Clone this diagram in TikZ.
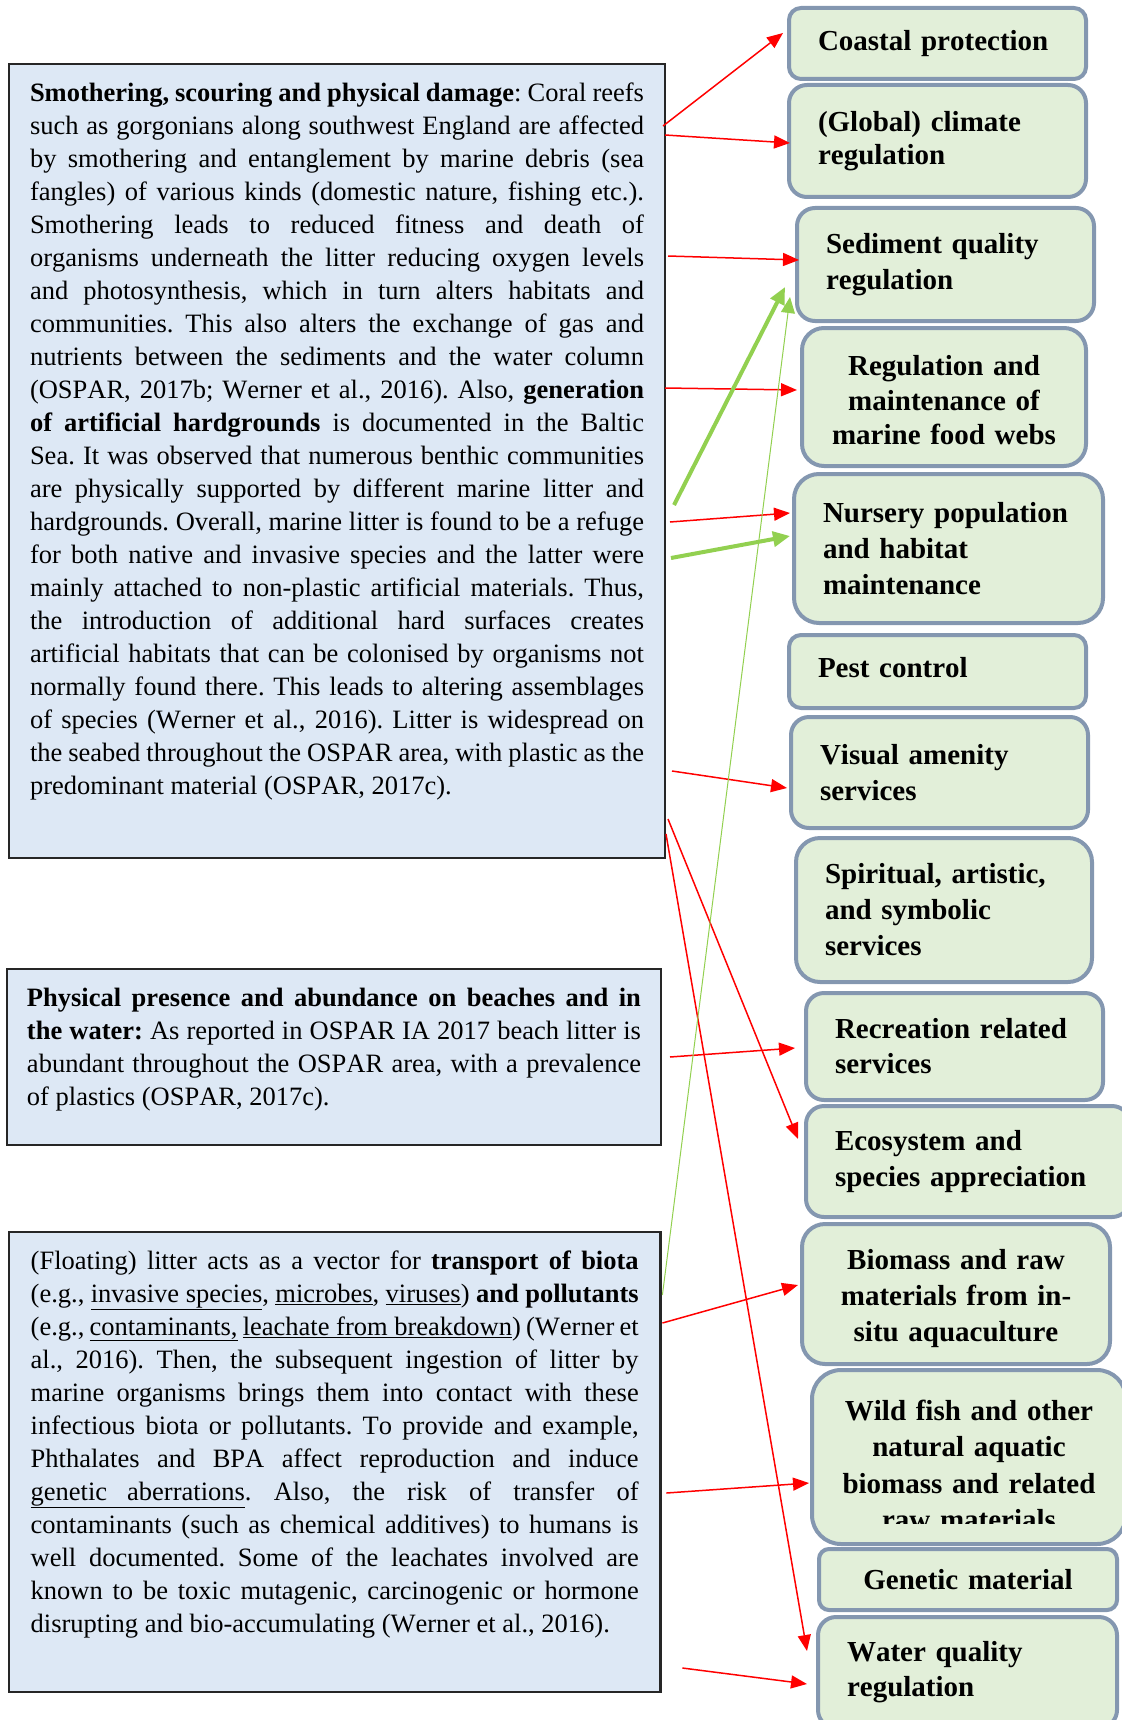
\documentclass[tikz,border=0pt]{standalone}
\usepackage{fontspec}
\setmainfont{Liberation Serif}[Kerning=Off,Ligatures=NoCommon]
\usetikzlibrary{arrows.meta}
\definecolor{pressfill}{HTML}{DDE8F5}
\definecolor{servfill}{HTML}{E2EFD9}
\definecolor{servline}{HTML}{8497B0}
\definecolor{litgreen}{HTML}{92D050}
\hyphenpenalty=10000
\exhyphenpenalty=10000
\tolerance=10000
\frenchspacing

\begin{document}
\begin{tikzpicture}[x=1pt,y=1pt,
	pressure/.style={draw=black!85, line width=2.2pt, fill=pressfill, anchor=north west,
		outer sep=0pt, inner xsep=21pt, inner ysep=14pt, font=\fontsize{26.5}{33}\selectfont},
	service/.style={draw=servline, line width=4pt, fill=servfill, anchor=north west,
		outer sep=0pt, inner xsep=29pt, align=left, font=\fontsize{29}{36}\selectfont\bfseries},
	redlink/.style={draw=red, line width=1.5pt, -{Triangle[length=16pt,width=13pt]}},
	greenlink/.style={draw=litgreen, line width=4pt, -{Triangle[length=17pt,width=15pt]}},
	thingreen/.style={draw=litgreen, line width=1pt, -{Triangle[length=16pt,width=14pt]}}]
	\useasboundingbox (0,0) rectangle (1121,-1720);

	% pressures
	\node[pressure] (damage) at (9,-64) {\parbox[t][766pt][t]{614pt}{\strut\textbf{Smothering, scouring and physical damage}: Coral reefs\linebreak
		such as gorgonians along southwest England are affected\linebreak
		by smothering and entanglement by marine debris (sea\linebreak
		fangles) of various kinds (domestic nature, fishing etc.).\linebreak
		Smothering leads to reduced fitness and death of\linebreak
		organisms underneath the litter reducing oxygen levels\linebreak
		and photosynthesis, which in turn alters habitats and\linebreak
		communities. This also alters the exchange of gas and\linebreak
		nutrients between the sediments and the water column\linebreak
		(OSPAR, 2017b; Werner et al., 2016). Also, \textbf{generation}\linebreak
		\textbf{of artificial hardgrounds} is documented in the Baltic\linebreak
		Sea. It was observed that numerous benthic communities\linebreak
		are physically supported by different marine litter and\linebreak
		hardgrounds. Overall, marine litter is found to be a refuge\linebreak
		for both native and invasive species and the latter were\linebreak
		mainly attached to non-plastic artificial materials. Thus,\linebreak
		the introduction of additional hard surfaces creates\linebreak
		artificial habitats that can be colonised by organisms not\linebreak
		normally found there. This leads to altering assemblages\linebreak
		of species (Werner et al., 2016). Litter is widespread on\linebreak
		the seabed throughout the OSPAR area, with plastic as the\linebreak
		predominant material (OSPAR, 2017c).}};
	\node[pressure, inner xsep=20pt] (presence) at (7,-969) {\parbox[t][148pt][t]{614pt}{\strut\textbf{Physical presence and abundance on beaches and in}\linebreak
		\textbf{the water:} As reported in OSPAR IA 2017 beach litter is\linebreak
		abundant throughout the OSPAR area, with a prevalence\linebreak
		of plastics (OSPAR, 2017c).}};
	\node[pressure, inner xsep=21.7pt] (transport) at (9,-1232) {\parbox[t][432pt][t]{608pt}{\strut(Floating) litter acts as a vector for \textbf{transport of biota}\linebreak
		(e.g., \underline{invasive species}, \underline{microbes}, \underline{viruses}) \textbf{and pollutants}\linebreak
		(e.g., \underline{contaminants,} \underline{leachate from breakdown}) (Werner et\linebreak
		al., 2016). Then, the subsequent ingestion of litter by\linebreak
		marine organisms brings them into contact with these\linebreak
		infectious biota or pollutants. To provide and example,\linebreak
		Phthalates and BPA affect reproduction and induce\linebreak
		\underline{genetic\hspace{20pt}aberrations}. Also, the risk of transfer of\linebreak
		contaminants (such as chemical additives) to humans is\linebreak
		well documented. Some of the leachates involved are\linebreak
		known to be toxic mutagenic, carcinogenic or hormone\linebreak
		disrupting and bio-accumulating (Werner et al., 2016).}};

	% services
	\node[service, rounded corners=12pt, minimum width=297pt, minimum height=71pt, text width=239pt] (coastal) at (789,-8) {Coastal protection};
	\node[service, rounded corners=18pt, minimum width=297pt, minimum height=112pt, text width=239pt,
		font=\fontsize{29}{33.5}\selectfont\bfseries] (climate) at (789,-85) {(Global) climate\\regulation};
	\node[service, rounded corners=18pt, minimum width=297pt, minimum height=113pt, text width=239pt] (sediment) at (797,-208) {Sediment quality\\regulation};
	\node[service, rounded corners=22pt, minimum width=284pt, minimum height=138pt, text width=226pt, align=center,
		font=\fontsize{29}{34.5}\selectfont\bfseries] (foodweb) at (802,-328) {\rule{0pt}{27pt}Regulation and\\maintenance of\\marine food webs};
	\node[service, rounded corners=25pt, minimum width=309pt, minimum height=149pt, text width=251pt] (nursery) at (794,-474) {Nursery population\\and habitat\\maintenance};
	\node[service, rounded corners=12pt, minimum width=297pt, minimum height=73pt, text width=239pt] (pest) at (789,-635) {Pest control\rule[-8pt]{0pt}{0pt}};
	\node[service, rounded corners=18pt, minimum width=297pt, minimum height=111pt, text width=239pt] (visual) at (791,-717) {Visual amenity\\services};
	\node[service, rounded corners=24pt, minimum width=296pt, minimum height=144pt, text width=238pt] (spiritual) at (796,-838) {Spiritual, artistic,\\and symbolic\\services};
	\node[service, rounded corners=18pt, minimum width=297pt, minimum height=107pt, text width=239pt,
		font=\fontsize{29}{35}\selectfont\bfseries] (recreation) at (806,-993) {Recreation related\\services};
	\node[service, rounded corners=18pt, minimum width=324pt, minimum height=111pt, text width=266pt] (ecosystem) at (806,-1106) {Ecosystem and\\species appreciation};
	\node[service, rounded corners=23pt, minimum width=308pt, minimum height=140pt, text width=250pt, align=center] (biomass) at (802,-1224) {\rule{0pt}{30pt}Biomass and raw\\materials from in-\\situ aquaculture};
	\node[service, rounded corners=29pt, minimum width=314pt, minimum height=174pt, text width=256pt, align=center,
		font=\fontsize{29}{36.5}\selectfont\bfseries] (wildfish) at (812,-1370) {\rule{0pt}{36pt}Wild fish and other\\natural aquatic\\biomass and related\\raw materials};
	\fill[servfill] (860,-1524) rectangle (1080,-1537);
	\node[service, rounded corners=10pt, minimum width=298pt, minimum height=61pt, text width=240pt, align=center] (genetic) at (819,-1549) {Genetic material};
	\node[service, rounded corners=18pt, minimum width=299pt, minimum height=111pt, text width=241pt,
		font=\fontsize{29}{35}\selectfont\bfseries] (water) at (818,-1617) {Water quality\\regulation};

	% links
	\draw[redlink] ([shift={(-2,-62)}]damage.north east) -- ([shift={(-6,-25)}]coastal.north west);
	\draw[redlink] ([shift={(0,-71)}]damage.north east) -- ([shift={(1,-58)}]climate.north west);
	\draw[redlink] ([shift={(3,-192)}]damage.north east) -- ([shift={(2,-52)}]sediment.north west);
	\draw[redlink] ([shift={(0,-324)}]damage.north east) -- ([shift={(-5,-62)}]foodweb.north west);
	\draw[redlink] ([shift={(5,-458)}]damage.north east) -- ([shift={(-4,-39)}]nursery.north west);
	\draw[redlink] ([shift={(7,-707)}]damage.north east) -- ([shift={(-4,-71)}]visual.north west);
	\draw[redlink] ([shift={(3,-755)}]damage.north east) -- ([shift={(-8,-33)}]ecosystem.north west);
	\draw[redlink] ([shift={(1,-770)}]damage.north east) -- ([shift={(-11,-34)}]water.north west);
	\draw[redlink] ([shift={(9,-88)}]presence.north east) -- ([shift={(-11,-55)}]recreation.north west);
	\draw[redlink] ([shift={(2,-91)}]transport.north east) -- ([shift={(-4,-61)}]biomass.north west);
	\draw[redlink] ([shift={(6,-261)}]transport.north east) -- ([shift={(-3,-113)}]wildfish.north west);
	\draw[redlink] ([shift={(22,-436)}]transport.north east) -- ([shift={(-11,-67)}]water.north west);
	\draw[greenlink] ([shift={(9,-441)}]damage.north east) -- ([shift={(-12,-79)}]sediment.north west);
	\draw[greenlink] ([shift={(6,-494)}]damage.north east) -- ([shift={(-4,-62)}]nursery.north west);
	\draw[thingreen] ([shift={(2,-63)}]transport.north east) -- ([shift={(-7,-89)}]sediment.north west);
\end{tikzpicture}
\end{document}
